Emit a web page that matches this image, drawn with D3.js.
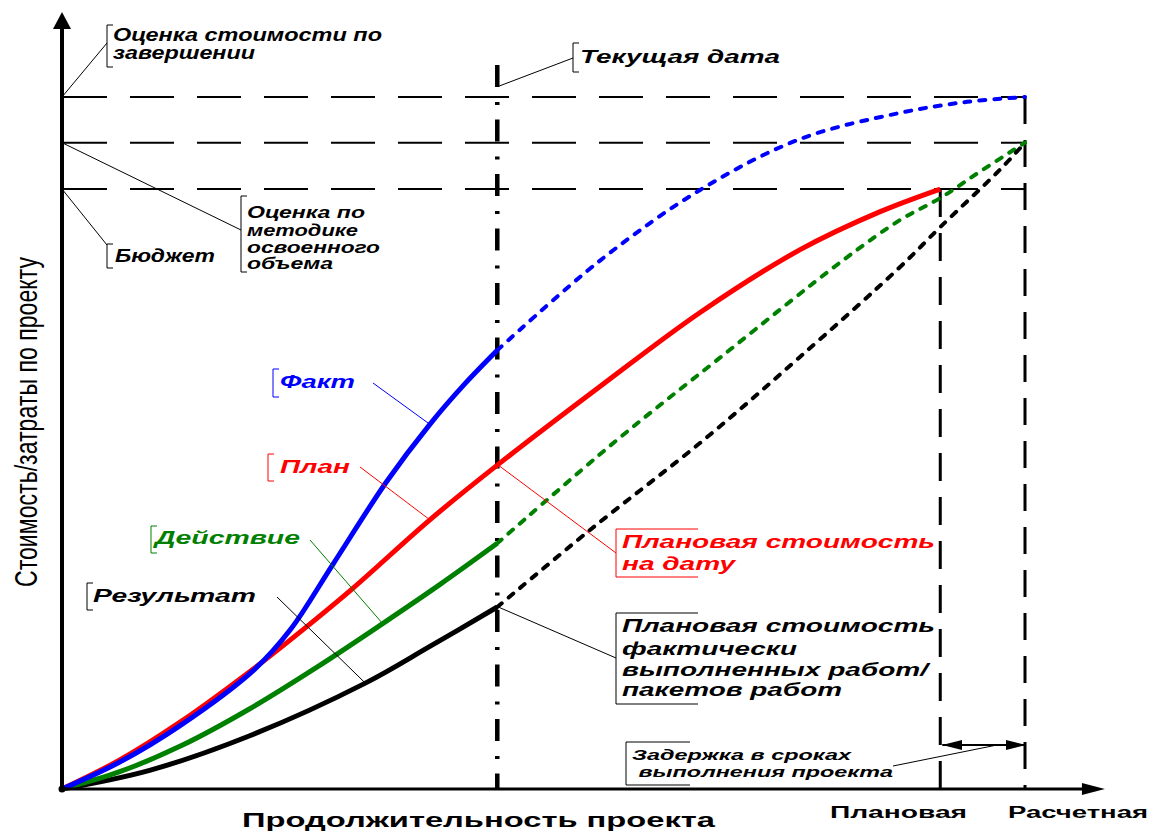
<!DOCTYPE html>
<html>
<head>
<meta charset="utf-8">
<script src="https://cdn.jsdelivr.net/npm/d3@7"></script>
<style>
  body { margin: 0; background: #fff; }
  svg { display: block; }
  text { font-family: "Liberation Sans", Arial, sans-serif; }
</style>
</head>
<body>
<svg width="1157" height="831"></svg>
<script>
// Time: 0 = start, 100 = calculated finish. Cost: 0..100, 100 = estimate at completion
const tNow = 45.2, tPlan = 91.2, tCalc = 100;
const eac = 100, evEstimate = 93.4, budget = 86.7;

// [time, cost]
const factActual = [[0, 0], [6.0, 3.9], [12.3, 9.2], [20.0, 17.3], [23.7, 23.0], [28.1, 32.4], [33.7, 44.4], [38.2, 52.7], [41.8, 58.5], [45.2, 63.4]];
const factForecast = [[45.2, 63.4], [55.9, 76.4], [66.3, 86.6], [76.6, 93.9], [87.0, 97.7], [94.0, 99.3], [100, 100]];
const plan = [[0, 0], [6.0, 4.2], [12.3, 9.7], [20.0, 17.5], [25.0, 23.0], [30.2, 29.0], [38.2, 38.9], [45.2, 46.8], [55.9, 58.2], [66.3, 68.9], [76.6, 77.9], [84.9, 83.4], [91.2, 86.7]];
const actionActual = [[0, 0], [6.0, 2.5], [12.3, 6.2], [19.5, 11.6], [26.8, 17.9], [33.3, 23.9], [39.3, 29.6], [45.2, 35.5]];
const actionForecast = [[45.2, 35.5], [57.6, 50.4], [68.3, 62.3], [81.1, 76.4], [87.0, 82.2], [91.2, 85.4], [95.3, 89.2], [100, 93.4]];
const resultActual = [[0, 0], [9.1, 2.7], [19.5, 7.7], [31.5, 15.3], [38.2, 20.6], [45.2, 26.3]];
const resultForecast = [[45.2, 26.3], [54.8, 37.4], [66.6, 50.4], [76.6, 62.4], [87.0, 75.4], [91.2, 81.2], [97.4, 89.5], [100, 93.4]];

// label texts
const eacLabel = ["Оценка стоимости по", "завершении"];
const evEstLabel = ["Оценка по", "методике", "освоенного", "объема"];
const budgetLabel = ["Бюджет"];
const nowLabel = ["Текущая дата"];
const pvLabel = ["Плановая стоимость", "на дату"];
const evLabel = ["Плановая стоимость", "фактически", "выполненных работ/", "пакетов работ"];
const delayLabel = ["Задержка в сроках", " выполнения проекта"];
const xTitle = "Продолжительность проекта";
const yTitle = "Стоимость/затраты по проекту";
const xTicks = [[tPlan, "Плановая"], [tCalc, "Расчетная"]];

const svg = d3.select("svg");

const x = d3.scaleLinear().domain([0, 100]).range([62, 1025]);
const y = d3.scaleLinear().domain([0, 100]).range([789, 97]);

const line = d3.line()
  .x(d => x(d[0]))
  .y(d => y(d[1]))
  .curve(d3.curveCatmullRom.alpha(0.5));

// markers for the delay arrow
const defs = svg.append("defs");
defs.append("marker")
  .attr("id", "arr")
  .attr("viewBox", "0 0 20 10")
  .attr("refX", 20).attr("refY", 5)
  .attr("markerWidth", 20).attr("markerHeight", 10)
  .attr("markerUnits", "userSpaceOnUse")
  .attr("orient", "auto-start-reverse")
  .append("path")
  .attr("d", "M0,0L20,5L0,10Z")
  .attr("fill", "#000");

// horizontal dashed levels
svg.append("g")
  .selectAll("line")
  .data([eac, evEstimate, budget])
  .join("line")
  .attr("x1", x(0) + 1).attr("x2", x(tCalc))
  .attr("y1", d => y(d)).attr("y2", d => y(d))
  .attr("stroke", "#000")
  .attr("stroke-width", 2)
  .attr("stroke-dasharray", "44,23");

// vertical dashed lines at planned / calculated finish
svg.append("line")
  .attr("x1", x(tPlan)).attr("x2", x(tPlan))
  .attr("y1", y(budget)).attr("y2", y(0))
  .attr("stroke", "#000").attr("stroke-width", 3)
  .attr("stroke-dasharray", "28,16");
svg.append("line")
  .attr("x1", x(tCalc)).attr("x2", x(tCalc))
  .attr("y1", y(eac)).attr("y2", y(0))
  .attr("stroke", "#000").attr("stroke-width", 3)
  .attr("stroke-dasharray", "27,16");

// current date dash-dot line
svg.append("line")
  .attr("x1", x(tNow)).attr("x2", x(tNow))
  .attr("y1", 65).attr("y2", y(0))
  .attr("stroke", "#000").attr("stroke-width", 4.5)
  .attr("stroke-dasharray", "22,15,3,14.5");

// curves: forecasts dotted, actuals solid
const dotted = [[factForecast, "#0000ff"], [actionForecast, "#008000"], [resultForecast, "#000"]];
svg.append("g")
  .selectAll("path")
  .data(dotted)
  .join("path")
  .attr("d", d => line(d[0]))
  .attr("fill", "none")
  .attr("stroke", d => d[1])
  .attr("stroke-width", 4)
  .attr("stroke-linecap", "round")
  .attr("stroke-dasharray", "6,9");

const solid = [[resultActual, "#000"], [actionActual, "#008000"], [plan, "#ff0000"], [factActual, "#0000ff"]];
svg.append("g")
  .selectAll("path")
  .data(solid)
  .join("path")
  .attr("d", d => line(d[0]))
  .attr("fill", "none")
  .attr("stroke", d => d[1])
  .attr("stroke-width", 5);

// axes
const xEnd = 108.3, yEnd = 112.3;
svg.append("line")
  .attr("x1", x(0)).attr("x2", x(xEnd) - 20)
  .attr("y1", y(0)).attr("y2", y(0))
  .attr("stroke", "#000").attr("stroke-width", 3);
svg.append("path")
  .attr("d", `M${x(xEnd)},${y(0)}L${x(xEnd) - 23},${y(0) - 6}L${x(xEnd) - 23},${y(0) + 6}Z`);
svg.append("line")
  .attr("x1", x(0)).attr("x2", x(0))
  .attr("y1", y(0)).attr("y2", y(yEnd) + 15)
  .attr("stroke", "#000").attr("stroke-width", 4);
svg.append("path")
  .attr("d", `M${x(0)},${y(yEnd)}L${x(0) - 9},${y(yEnd) + 17}L${x(0) + 9},${y(yEnd) + 17}Z`);
svg.append("circle").attr("cx", x(0)).attr("cy", y(0)).attr("r", 3.5);

// delay arrow
svg.append("line")
  .attr("x1", x(tPlan) + 2).attr("x2", x(tCalc) + 1)
  .attr("y1", 745).attr("y2", 745)
  .attr("stroke", "#000").attr("stroke-width", 2)
  .attr("marker-start", "url(#arr)")
  .attr("marker-end", "url(#arr)");

// helpers
function leader(x1, y1, x2, y2, color) {
  svg.append("line")
    .attr("x1", x1).attr("y1", y1).attr("x2", x2).attr("y2", y2)
    .attr("stroke", color).attr("stroke-width", 1);
}
function bracket(bx, top, bottom, color, len) {
  svg.append("path")
    .attr("d", `M${bx + len},${top}H${bx}V${bottom}H${bx + len}`)
    .attr("fill", "none")
    .attr("stroke", color).attr("stroke-width", 1);
}
function lines(texts, tx, ys, widths, color, size, italic) {
  texts.forEach((t, i) => {
    svg.append("text")
      .attr("x", Array.isArray(tx) ? tx[i] : tx)
      .attr("y", ys[i])
      .attr("fill", color)
      .attr("font-size", size)
      .attr("font-weight", "bold")
      .attr("font-style", italic ? "italic" : "normal")
      .attr("textLength", widths[i])
      .attr("lengthAdjust", "spacingAndGlyphs")
      .attr("xml:space", "preserve")
      .text(t);
  });
}

// Оценка стоимости по завершении
leader(x(0), y(eac), 107, 43, "#000");
bracket(107, 25, 67, "#000", 6);
lines(eacLabel, 113, [41, 59], [269, 142], "#000", 18, true);

// Бюджет
leader(x(0), y(budget), 107, 245, "#000");
bracket(107, 244, 268, "#000", 6);
lines(budgetLabel, 115, [262], [100], "#000", 18, true);

// Оценка по методике освоенного объема
leader(x(0), y(evEstimate), 241, 230, "#000");
bracket(241, 196, 272, "#000", 6);
lines(evEstLabel, 247, [218, 236, 253, 269], [118, 111, 133, 86], "#000", 16, true);

// Текущая дата
leader(x(tNow) + 2, 86, 573, 58, "#000");
bracket(573, 43, 72, "#000", 6);
lines(nowLabel, 580, [63], [200], "#000", 18, true);

// curve labels
leader(373, 383, x(factActual[7][0]), y(factActual[7][1]), "#0000ff");
bracket(273, 369, 397, "#0000ff", 6);
lines(["Факт"], 280, [388], [75], "#0000ff", 18, true);

leader(360, 467, x(plan[6][0]), y(plan[6][1]), "#ff0000");
bracket(268, 454, 481, "#ff0000", 6);
lines(["План"], 280, [473], [70], "#ff0000", 18, true);

leader(310, 540, x(actionActual[5][0]), y(actionActual[5][1]), "#008000");
bracket(151, 526, 553, "#008000", 6);
lines(["Действие"], 155, [544], [145], "#008000", 18, true);

leader(277, 597, x(resultActual[3][0]), y(resultActual[3][1]), "#000");
bracket(87, 583, 610, "#000", 6);
lines(["Результат"], 93, [602], [163], "#000", 18, true);

// Плановая стоимость на дату
leader(x(tNow) + 1, y(plan[7][1]), 616, 553, "#ff0000");
bracket(616, 529, 577, "#ff0000", 82);
lines(pvLabel, 622, [548, 570], [313, 113], "#ff0000", 18, true);

// Плановая стоимость фактически выполненных работ
leader(x(tNow) + 1, y(resultActual[5][1]), 616, 658, "#000");
bracket(616, 613, 704, "#000", 82);
lines(evLabel, 622, [632, 655, 676, 696], [313, 175, 306, 220], "#000", 18, true);

// Задержка
leader(893, 766, 997, 745, "#000");
bracket(626, 742, 785, "#000", 64);
lines(delayLabel, 632, [760, 777], [219, 261], "#000", 14, true);

// x tick labels and title
lines(xTicks.map(d => d[1]), [830, 1008], [818, 818], [137, 140], "#000", 16, false);
lines([xTitle], 242, [827], [473], "#000", 21, false);

// y title
svg.append("text")
  .attr("transform", `translate(37,${(257 + 587) / 2}) rotate(-90)`)
  .attr("text-anchor", "middle")
  .attr("font-size", 32)
  .attr("textLength", 330)
  .attr("lengthAdjust", "spacingAndGlyphs")
  .text(yTitle);
</script>
</body>
</html>
